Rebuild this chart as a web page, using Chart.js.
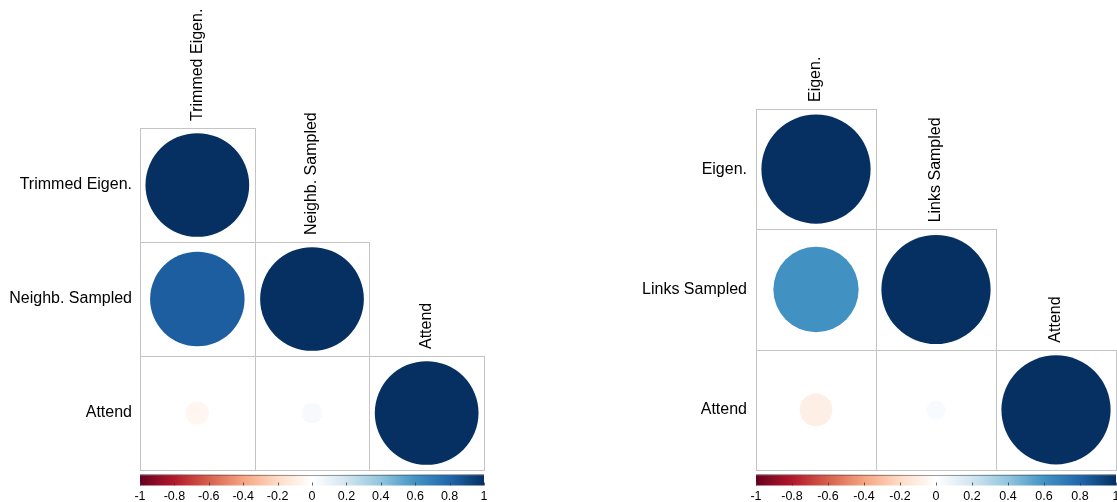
<!DOCTYPE html>
<html>
<head>
<meta charset="utf-8">
<script src="https://cdn.jsdelivr.net/npm/chart.js@4/dist/chart.umd.min.js"></script>
<style>
  html, body { margin: 0; padding: 0; background: #ffffff; }
  body { width: 1117px; height: 502px; position: relative; overflow: hidden; }
  canvas { position: absolute; top: 0; }
</style>
</head>
<body>
<canvas id="left" width="558" height="502" style="left:0"></canvas>
<canvas id="right" width="559" height="502" style="left:558px"></canvas>
<script>
// Variables and lower-triangle correlations for each panel (row i holds columns 0..i)
const leftVars = ['Trimmed Eigen.', 'Neighb. Sampled', 'Attend'];
const leftCorr = [
  [1],
  [0.83, 1],
  [-0.05, 0.04, 1]
];
const rightVars = ['Eigen.', 'Links Sampled', 'Attend'];
const rightCorr = [
  [1],
  [0.61, 1],
  [-0.09, 0.03, 1]
];
// Colour legend ticks
const legendTicks = [-1, -0.8, -0.6, -0.4, -0.2, 0, 0.2, 0.4, 0.6, 0.8, 1];
// RdBu diverging palette, from -1 to 1
const rdbu = ['#67001F', '#B2182B', '#D6604D', '#F4A582', '#FDDBC7', '#FFFFFF',
              '#D1E5F0', '#92C5DE', '#4393C3', '#2166AC', '#053061'];

const FONT = '"Liberation Sans", Arial, Helvetica, sans-serif';

function hexToRgb(h) {
  return [parseInt(h.slice(1, 3), 16), parseInt(h.slice(3, 5), 16), parseInt(h.slice(5, 7), 16)];
}
function corrColor(v) {
  const t = (Math.max(-1, Math.min(1, v)) + 1) / 2 * (rdbu.length - 1);
  const i = Math.min(rdbu.length - 2, Math.floor(t));
  const f = t - i;
  const a = hexToRgb(rdbu[i]), b = hexToRgb(rdbu[i + 1]);
  const c = a.map((x, k) => Math.round(x + (b[k] - x) * f));
  return `rgb(${c[0]},${c[1]},${c[2]})`;
}

function toPoints(vars, corr) {
  const pts = [];
  corr.forEach((row, i) => row.forEach((v, j) => pts.push({ x: vars[j], y: vars[i], v })));
  return pts;
}

// Cell borders, diagonal column labels and the colour legend bar
const corrDecor = {
  id: 'corrDecor',
  beforeDatasetsDraw(chart) {
    const { ctx } = chart;
    const xs = chart.scales.x, ys = chart.scales.y;
    const n = xs.getLabels().length;
    const cw = xs.width / n, ch = ys.height / n;
    ctx.save();
    ctx.strokeStyle = '#c4c4c4';
    ctx.lineWidth = 1;
    for (let i = 0; i < n; i++) {
      for (let j = 0; j <= i; j++) {
        const x0 = Math.round(xs.left + j * cw) + 0.5;
        const y0 = Math.round(ys.top + i * ch) + 0.5;
        const x1 = Math.round(xs.left + (j + 1) * cw) + 0.5;
        const y1 = Math.round(ys.top + (i + 1) * ch) + 0.5;
        ctx.strokeRect(x0, y0, x1 - x0, y1 - y0);
      }
    }
    ctx.restore();
  },
  afterDraw(chart) {
    const { ctx } = chart;
    const xs = chart.scales.x, ys = chart.scales.y, cb = chart.scales.cb;
    const labels = xs.getLabels();
    const n = labels.length;
    const ch = ys.height / n;
    ctx.save();
    ctx.fillStyle = '#000';
    ctx.font = '16px ' + FONT;
    ctx.textAlign = 'left';
    ctx.textBaseline = 'middle';
    labels.forEach((lab, j) => {
      const cx = xs.getPixelForValue(j);
      const by = ys.top + j * ch - 7;
      ctx.save();
      ctx.translate(cx, by);
      ctx.rotate(-Math.PI / 2);
      ctx.fillText(lab, 0, 0);
      ctx.restore();
    });
    // legend gradient bar
    const top = cb.top + 4.5, h = 11;
    const grad = ctx.createLinearGradient(cb.left, 0, cb.right, 0);
    rdbu.forEach((c, k) => grad.addColorStop(k / (rdbu.length - 1), c));
    ctx.fillStyle = grad;
    ctx.fillRect(cb.left, top, cb.right - cb.left, h);
    ctx.strokeStyle = 'rgba(90,90,90,0.6)';
    ctx.lineWidth = 1;
    ctx.beginPath();
    ctx.moveTo(cb.left, Math.round(top) + 0.5);
    ctx.lineTo(cb.right, Math.round(top) + 0.5);
    ctx.stroke();
    ctx.strokeStyle = 'rgba(60,60,60,0.8)';
    cb.ticks.forEach(t => {
      const px = Math.round(cb.getPixelForValue(t.value)) + 0.5;
      ctx.beginPath();
      ctx.moveTo(px, top + h - 3);
      ctx.lineTo(px, top + h);
      ctx.stroke();
    });
    ctx.restore();
  }
};

function buildChart(id, vars, corr, opts) {
  return new Chart(document.getElementById(id), {
    type: 'scatter',
    data: {
      datasets: [{
        data: toPoints(vars, corr),
        backgroundColor: c => corrColor(c.raw ? c.raw.v : 0),
        borderWidth: 0,
        pointRadius: c => {
          const ch = c.chart;
          if (!ch.chartArea || !c.raw) return 0;
          const cell = Math.min(ch.chartArea.width, ch.chartArea.height) / vars.length;
          return 0.455 * cell * Math.sqrt(Math.abs(c.raw.v));
        },
        pointHoverRadius: c => {
          const ch = c.chart;
          if (!ch.chartArea || !c.raw) return 0;
          const cell = Math.min(ch.chartArea.width, ch.chartArea.height) / vars.length;
          return 0.455 * cell * Math.sqrt(Math.abs(c.raw.v));
        }
      }]
    },
    options: {
      responsive: false,
      animation: false,
      devicePixelRatio: 1,
      events: [],
      layout: {
        autoPadding: false,
        padding: { top: opts.padTop, right: opts.padRight, bottom: 0, left: 0 }
      },
      plugins: { legend: { display: false }, tooltip: { enabled: false } },
      scales: {
        x: {
          type: 'category',
          labels: vars,
          offset: true,
          display: false
        },
        y: {
          type: 'category',
          labels: vars,
          offset: true,
          position: 'left',
          grid: { display: false, drawTicks: false },
          border: { display: false },
          ticks: { color: '#000', font: { family: FONT, size: 16 }, padding: opts.labelPad },
          afterFit: s => { s.width = opts.yWidth; s.paddingTop = 0; s.paddingBottom = 0; }
        },
        cb: {
          type: 'linear',
          axis: 'x',
          position: 'bottom',
          min: -1,
          max: 1,
          grid: { display: false, drawTicks: false },
          border: { display: false },
          ticks: {
            color: '#000',
            font: { family: FONT, size: 12.5 },
            padding: 19.5,
            maxRotation: 0,
            autoSkip: false,
            callback: v => String(Math.round(v * 10) / 10)
          },
          afterBuildTicks: s => { s.ticks = legendTicks.map(v => ({ value: v })); },
          afterFit: s => { s.height = 32; s.paddingLeft = 0; s.paddingRight = 0; }
        }
      }
    },
    plugins: [corrDecor]
  });
}

buildChart('left', leftVars, leftCorr, { padTop: 128, padRight: 74, yWidth: 140, labelPad: 8 });
buildChart('right', rightVars, rightCorr, { padTop: 109, padRight: 1, yWidth: 198, labelPad: 9 });
</script>
</body>
</html>
